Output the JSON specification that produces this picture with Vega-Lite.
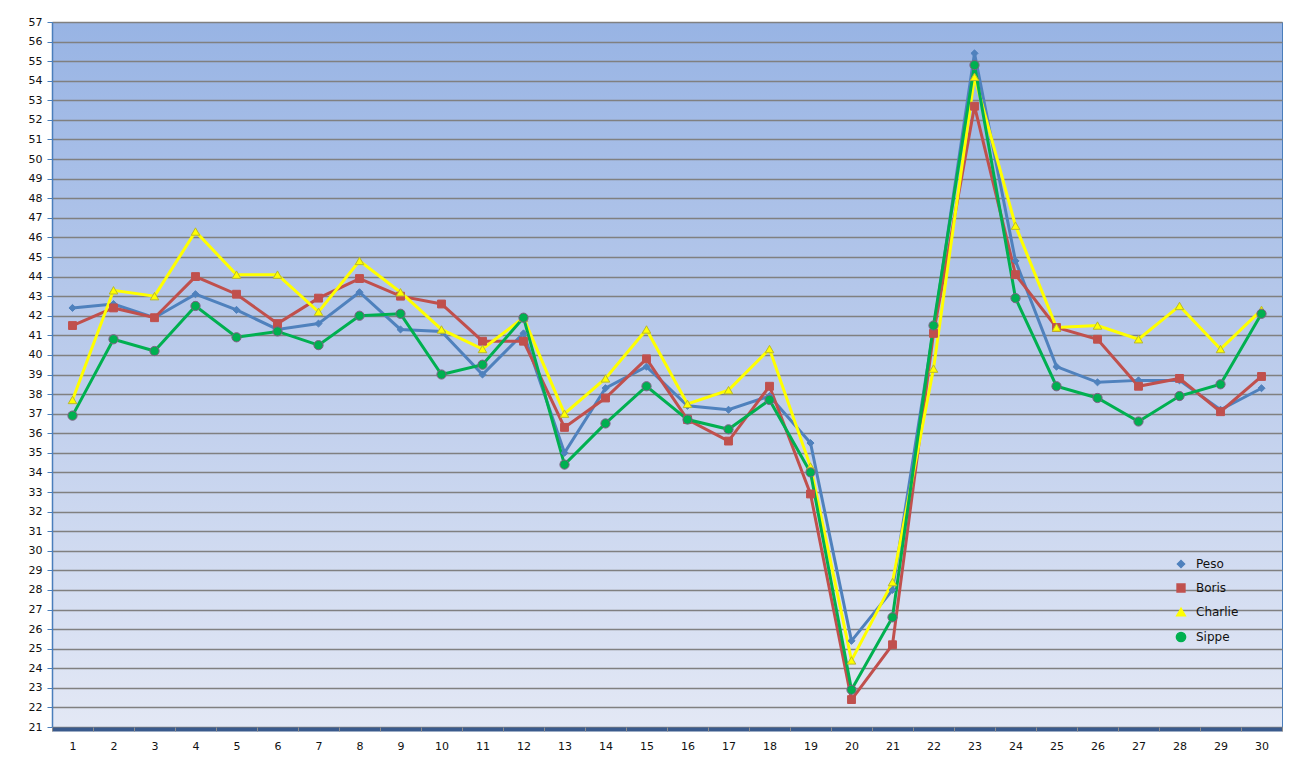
{
  "$schema": "https://vega.github.io/schema/vega-lite/v6.json",
  "width": 1230,
  "height": 705,
  "autosize": {"type": "none"},
  "padding": {"left": 52, "top": 22, "right": 11, "bottom": 49},
  "background": "#ffffff",
  "config": {
    "view": {
      "fill": {"gradient": "linear", "x1": 0, "y1": 0, "x2": 0, "y2": 1,
        "stops": [{"offset": 0, "color": "#98B4E4"}, {"offset": 0.5, "color": "#BDCDEC"}, {"offset": 1, "color": "#E3E8F5"}]},
      "stroke": "#4A7EBB",
      "strokeWidth": 1
    },
    "axis": {"labelFont": "DejaVu Sans", "labelFontSize": 11, "labelColor": "#111111"}
  },
  "data": {
    "values": [
      {"day":1,"series":"Peso","value":42.4},{"day":2,"series":"Peso","value":42.6},{"day":3,"series":"Peso","value":41.9},{"day":4,"series":"Peso","value":43.1},{"day":5,"series":"Peso","value":42.3},
      {"day":6,"series":"Peso","value":41.3},{"day":7,"series":"Peso","value":41.6},{"day":8,"series":"Peso","value":43.2},{"day":9,"series":"Peso","value":41.3},{"day":10,"series":"Peso","value":41.2},
      {"day":11,"series":"Peso","value":39.0},{"day":12,"series":"Peso","value":41.1},{"day":13,"series":"Peso","value":35.0},{"day":14,"series":"Peso","value":38.3},{"day":15,"series":"Peso","value":39.4},
      {"day":16,"series":"Peso","value":37.4},{"day":17,"series":"Peso","value":37.2},{"day":18,"series":"Peso","value":37.9},{"day":19,"series":"Peso","value":35.5},{"day":20,"series":"Peso","value":25.4},
      {"day":21,"series":"Peso","value":28.0},{"day":22,"series":"Peso","value":41.3},{"day":23,"series":"Peso","value":55.4},{"day":24,"series":"Peso","value":44.8},{"day":25,"series":"Peso","value":39.4},
      {"day":26,"series":"Peso","value":38.6},{"day":27,"series":"Peso","value":38.7},{"day":28,"series":"Peso","value":38.7},{"day":29,"series":"Peso","value":37.2},{"day":30,"series":"Peso","value":38.3},
      {"day":1,"series":"Boris","value":41.5},{"day":2,"series":"Boris","value":42.4},{"day":3,"series":"Boris","value":41.9},{"day":4,"series":"Boris","value":44.0},{"day":5,"series":"Boris","value":43.1},
      {"day":6,"series":"Boris","value":41.6},{"day":7,"series":"Boris","value":42.9},{"day":8,"series":"Boris","value":43.9},{"day":9,"series":"Boris","value":43.0},{"day":10,"series":"Boris","value":42.6},
      {"day":11,"series":"Boris","value":40.7},{"day":12,"series":"Boris","value":40.7},{"day":13,"series":"Boris","value":36.3},{"day":14,"series":"Boris","value":37.8},{"day":15,"series":"Boris","value":39.8},
      {"day":16,"series":"Boris","value":36.7},{"day":17,"series":"Boris","value":35.6},{"day":18,"series":"Boris","value":38.4},{"day":19,"series":"Boris","value":32.9},{"day":20,"series":"Boris","value":22.4},
      {"day":21,"series":"Boris","value":25.2},{"day":22,"series":"Boris","value":41.1},{"day":23,"series":"Boris","value":52.7},{"day":24,"series":"Boris","value":44.1},{"day":25,"series":"Boris","value":41.4},
      {"day":26,"series":"Boris","value":40.8},{"day":27,"series":"Boris","value":38.4},{"day":28,"series":"Boris","value":38.8},{"day":29,"series":"Boris","value":37.1},{"day":30,"series":"Boris","value":38.9},
      {"day":1,"series":"Charlie","value":37.7},{"day":2,"series":"Charlie","value":43.3},{"day":3,"series":"Charlie","value":43.0},{"day":4,"series":"Charlie","value":46.3},{"day":5,"series":"Charlie","value":44.1},
      {"day":6,"series":"Charlie","value":44.1},{"day":7,"series":"Charlie","value":42.2},{"day":8,"series":"Charlie","value":44.8},{"day":9,"series":"Charlie","value":43.2},{"day":10,"series":"Charlie","value":41.3},
      {"day":11,"series":"Charlie","value":40.3},{"day":12,"series":"Charlie","value":41.9},{"day":13,"series":"Charlie","value":37.0},{"day":14,"series":"Charlie","value":38.8},{"day":15,"series":"Charlie","value":41.3},
      {"day":16,"series":"Charlie","value":37.5},{"day":17,"series":"Charlie","value":38.2},{"day":18,"series":"Charlie","value":40.3},{"day":19,"series":"Charlie","value":34.3},{"day":20,"series":"Charlie","value":24.4},
      {"day":21,"series":"Charlie","value":28.4},{"day":22,"series":"Charlie","value":39.3},{"day":23,"series":"Charlie","value":54.2},{"day":24,"series":"Charlie","value":46.6},{"day":25,"series":"Charlie","value":41.4},
      {"day":26,"series":"Charlie","value":41.5},{"day":27,"series":"Charlie","value":40.8},{"day":28,"series":"Charlie","value":42.5},{"day":29,"series":"Charlie","value":40.3},{"day":30,"series":"Charlie","value":42.3},
      {"day":1,"series":"Sippe","value":36.9},{"day":2,"series":"Sippe","value":40.8},{"day":3,"series":"Sippe","value":40.2},{"day":4,"series":"Sippe","value":42.5},{"day":5,"series":"Sippe","value":40.9},
      {"day":6,"series":"Sippe","value":41.2},{"day":7,"series":"Sippe","value":40.5},{"day":8,"series":"Sippe","value":42.0},{"day":9,"series":"Sippe","value":42.1},{"day":10,"series":"Sippe","value":39.0},
      {"day":11,"series":"Sippe","value":39.5},{"day":12,"series":"Sippe","value":41.9},{"day":13,"series":"Sippe","value":34.4},{"day":14,"series":"Sippe","value":36.5},{"day":15,"series":"Sippe","value":38.4},
      {"day":16,"series":"Sippe","value":36.7},{"day":17,"series":"Sippe","value":36.2},{"day":18,"series":"Sippe","value":37.7},{"day":19,"series":"Sippe","value":34.0},{"day":20,"series":"Sippe","value":22.9},
      {"day":21,"series":"Sippe","value":26.6},{"day":22,"series":"Sippe","value":41.5},{"day":23,"series":"Sippe","value":54.8},{"day":24,"series":"Sippe","value":42.9},{"day":25,"series":"Sippe","value":38.4},
      {"day":26,"series":"Sippe","value":37.8},{"day":27,"series":"Sippe","value":36.6},{"day":28,"series":"Sippe","value":37.9},{"day":29,"series":"Sippe","value":38.5},{"day":30,"series":"Sippe","value":42.1}
    ]
  },
  "resolve": {"axis": {"x": "independent"}},
  "layer": [
    {
      "mark": {"type": "line", "strokeWidth": 3},
      "encoding": {
        "x": {"field": "day", "type": "quantitative",
          "scale": {"domain": [0.5, 30.5], "nice": false, "zero": false},
          "axis": {"values": [1,2,3,4,5,6,7,8,9,10,11,12,13,14,15,16,17,18,19,20,21,22,23,24,25,26,27,28,29,30],
            "tickCount": 60, "orient": "bottom",
            "title": null, "grid": false, "ticks": false, "domainColor": "#3A5A8C", "domainWidth": 4, "offset": 2,
            "labelPadding": 11, "labelFlush": false, "labelOverlap": false, "format": "d", "zindex": 1}},
        "y": {"field": "value", "type": "quantitative",
          "scale": {"domain": [21, 57], "nice": false, "zero": false},
          "axis": {"values": [21,22,23,24,25,26,27,28,29,30,31,32,33,34,35,36,37,38,39,40,41,42,43,44,45,46,47,48,49,50,51,52,53,54,55,56,57],
            "tickCount": 60, "labelOverlap": false, "labelFlush": false,
            "title": null, "grid": true, "gridColor": "#808080", "gridWidth": 1.5,
            "domainColor": "#4A7EBB", "domainWidth": 1.5, "tickColor": "#4A7EBB", "tickSize": 5, "labelPadding": 5, "format": "d"}},
        "color": {"field": "series", "type": "nominal",
          "scale": {"domain": ["Peso", "Boris", "Charlie", "Sippe"], "range": ["#4F81BD", "#C0504D", "#FFFF00", "#00B050"]},
          "legend": {"orient": "none", "legendX": 1123, "legendY": 536, "title": null, "padding": 0,
            "labelFont": "DejaVu Sans", "labelFontSize": 12, "labelColor": "#111111",
            "symbolSize": 182, "rowPadding": 10, "labelOffset": 9}
        }
      }
    },
    {
      "mark": {"type": "point", "filled": true, "strokeWidth": 1, "opacity": 1},
      "encoding": {
        "x": {"field": "day", "type": "quantitative", "axis": null},
        "y": {"field": "value", "type": "quantitative"},
        "color": {"field": "series", "type": "nominal", "legend": null},
        "stroke": {"field": "series", "type": "nominal",
          "scale": {"domain": ["Peso", "Boris", "Charlie", "Sippe"], "range": ["#4F81BD", "#C0504D", "#B8B830", "#7F6084"]},
          "legend": null},
        "shape": {"field": "series", "type": "nominal",
          "scale": {"domain": ["Peso", "Boris", "Charlie", "Sippe"], "range": ["diamond", "square", "triangle-up", "circle"]},
          "legend": null},
        "size": {"field": "series", "type": "ordinal",
          "scale": {"domain": ["Peso", "Boris", "Charlie", "Sippe"], "range": [50, 85, 60, 45]},
          "legend": null}
      }
    },
    {
      "mark": {"type": "point", "opacity": 0},
      "encoding": {
        "x": {"field": "day", "type": "quantitative",
          "axis": {"values": [0.5,1.5,2.5,3.5,4.5,5.5,6.5,7.5,8.5,9.5,10.5,11.5,12.5,13.5,14.5,15.5,16.5,17.5,18.5,19.5,20.5,21.5,22.5,23.5,24.5,25.5,26.5,27.5,28.5,29.5,30.5],
            "tickCount": 60, "orient": "bottom",
            "title": null, "labels": false, "grid": false, "domain": false, "ticks": true,
            "tickColor": "#8C8C8C", "tickSize": 4, "tickWidth": 1, "offset": 0, "zindex": 2}},
        "y": {"field": "value", "type": "quantitative"}
      }
    }
  ]
}
